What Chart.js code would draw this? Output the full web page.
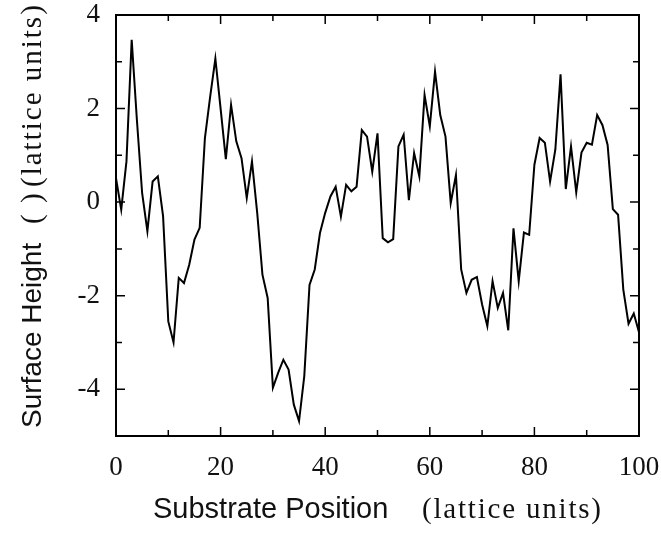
<!DOCTYPE html>
<html>
<head>
<meta charset="utf-8">
<title>Surface Height Profile</title>
<script src="https://cdn.jsdelivr.net/npm/chart.js@4.4.0/dist/chart.umd.min.js"></script>
<style>
  html, body { margin: 0; padding: 0; background: #fff; }
  #wrap { width: 661px; height: 533px; position: relative; }
</style>
</head>
<body>
<div id="wrap"><canvas id="profileChart"></canvas></div>
<script>
// substrate positions (lattice units)
const positions = [
  0, 1, 2, 3, 4, 5, 6, 7, 8, 9,
  10, 11, 12, 13, 14, 15, 16, 17, 18, 19,
  20, 21, 22, 23, 24, 25, 26, 27, 28, 29,
  30, 31, 32, 33, 34, 35, 36, 37, 38, 39,
  40, 41, 42, 43, 44, 45, 46, 47, 48, 49,
  50, 51, 52, 53, 54, 55, 56, 57, 58, 59,
  60, 61, 62, 63, 64, 65, 66, 67, 68, 69,
  70, 71, 72, 73, 74, 75, 76, 77, 78, 79,
  80, 81, 82, 83, 84, 85, 86, 87, 88, 89,
  90, 91, 92, 93, 94, 95, 96, 97, 98, 99,
  100
];

// surface height at each position
const heights = [
  0.51, -0.16, 0.87, 3.47, 1.75, 0.19, -0.62, 0.44, 0.55, -0.30,
  -2.55, -3.00, -1.62, -1.73, -1.34, -0.80, -0.55, 1.37, 2.25, 3.07,
  2.00, 0.92, 2.08, 1.30, 0.94, 0.09, 0.87, -0.23, -1.55, -2.05,
  -3.97, -3.65, -3.37, -3.58, -4.33, -4.68, -3.72, -1.77, -1.44, -0.66,
  -0.23, 0.12, 0.33, -0.31, 0.37, 0.23, 0.33, 1.54, 1.40, 0.65,
  1.47, -0.77, -0.86, -0.79, 1.19, 1.44, 0.04, 1.05, 0.55, 2.29,
  1.62, 2.79, 1.86, 1.40, -0.02, 0.58, -1.44, -1.94, -1.66, -1.60,
  -2.19, -2.65, -1.69, -2.26, -1.94, -2.74, -0.56, -1.69, -0.65, -0.70,
  0.80, 1.37, 1.27, 0.44, 1.12, 2.73, 0.28, 1.19, 0.21, 1.06,
  1.27, 1.23, 1.86, 1.65, 1.22, -0.15, -0.27, -1.87, -2.60, -2.38,
  -2.78
];

// axis ranges and which ticks carry a label
const xRange = [0, 100];
const yRange = [-5, 4];
const xLabelTicks = [0, 20, 40, 60, 80, 100];
const yLabelTicks = [-4, -2, 0, 2, 4];

const serif = "'Liberation Serif', 'DejaVu Serif', serif";
const sans = "'Liberation Sans', Arial, sans-serif";

// inward tick marks on all four sides of the frame
const frameTicks = {
  id: 'frameTicks',
  afterDraw(chart) {
    const { ctx, chartArea: a, scales } = chart;
    ctx.save();
    ctx.strokeStyle = '#000';
    ctx.lineWidth = 1.5;
    scales.x.ticks.forEach(t => {
      const px = scales.x.getPixelForValue(t.value);
      const len = xLabelTicks.includes(t.value) ? 9 : 6;
      ctx.beginPath();
      ctx.moveTo(px, a.bottom); ctx.lineTo(px, a.bottom - len);
      ctx.moveTo(px, a.top); ctx.lineTo(px, a.top + len);
      ctx.stroke();
    });
    scales.y.ticks.forEach(t => {
      const py = scales.y.getPixelForValue(t.value);
      const len = yLabelTicks.includes(t.value) ? 9 : 6;
      ctx.beginPath();
      ctx.moveTo(a.left, py); ctx.lineTo(a.left + len, py);
      ctx.moveTo(a.right, py); ctx.lineTo(a.right - len, py);
      ctx.stroke();
    });
    ctx.restore();
  }
};

// axis titles mixing a sans label with a serif unit
const axisTitles = {
  id: 'axisTitles',
  afterDraw(chart) {
    const { ctx } = chart;
    ctx.save();
    ctx.fillStyle = '#111';
    ctx.textBaseline = 'alphabetic';
    ctx.textAlign = 'left';

    ctx.font = `29px ${sans}`;
    ctx.fillText('Substrate Position', 153, 518);
    ctx.font = `29px ${serif}`;
    ctx.letterSpacing = '1.8px';
    ctx.fillText('(lattice units)', 422, 518);
    ctx.letterSpacing = '0px';

    ctx.translate(41, 0);
    ctx.rotate(-Math.PI / 2);
    ctx.font = `28px ${sans}`;
    ctx.fillText('Surface Height', -428, 0);
    ctx.font = `29px ${serif}`;
    ctx.letterSpacing = '2px';
    ctx.fillText('( )', -224, 0);
    ctx.fillText('(lattice units)', -187, 0);
    ctx.restore();
  }
};

new Chart(document.getElementById('profileChart'), {
  type: 'line',
  data: {
    datasets: [{
      data: positions.map((x, i) => ({ x: x, y: heights[i] })),
      borderColor: '#000',
      borderWidth: 2,
      pointRadius: 0,
      tension: 0,
      fill: false
    }]
  },
  options: {
    responsive: true,
    maintainAspectRatio: false,
    animation: false,
    events: [],
    layout: { padding: { top: 15, right: 22, left: 0, bottom: 0 } },
    plugins: {
      legend: { display: false },
      tooltip: { enabled: false }
    },
    scales: {
      x: {
        type: 'linear',
        min: xRange[0],
        max: xRange[1],
        afterFit(scale) {
          scale.height = 97;
          scale.paddingLeft = 0;
          scale.paddingRight = 0;
        },
        grid: { display: false },
        border: { display: true, color: '#000', width: 2 },
        ticks: {
          stepSize: 10,
          color: '#111',
          padding: 8,
          maxRotation: 0,
          autoSkip: false,
          font: { family: serif, size: 27 },
          callback: v => xLabelTicks.includes(v) ? String(v) : ''
        }
      },
      y: {
        min: yRange[0],
        max: yRange[1],
        afterFit(scale) {
          scale.width = 116;
          scale.paddingTop = 0;
          scale.paddingBottom = 0;
        },
        grid: { display: false },
        border: { display: true, color: '#000', width: 2 },
        ticks: {
          stepSize: 1,
          color: '#111',
          padding: 8,
          autoSkip: false,
          font: { family: serif, size: 27 },
          callback: v => yLabelTicks.includes(v) ? String(v) : ''
        }
      },
      // mirrored frame on top and right
      x2: {
        type: 'linear', position: 'top', min: xRange[0], max: xRange[1],
        afterFit(scale) {
          scale.height = 0;
          scale.paddingLeft = 0;
          scale.paddingRight = 0;
        },
        grid: { display: false },
        border: { display: true, color: '#000', width: 2 },
        ticks: { display: false }
      },
      y2: {
        position: 'right', min: yRange[0], max: yRange[1],
        afterFit(scale) {
          scale.width = 0;
          scale.paddingTop = 0;
          scale.paddingBottom = 0;
        },
        grid: { display: false },
        border: { display: true, color: '#000', width: 2 },
        ticks: { display: false }
      }
    }
  },
  plugins: [frameTicks, axisTitles]
});
</script>
</body>
</html>
